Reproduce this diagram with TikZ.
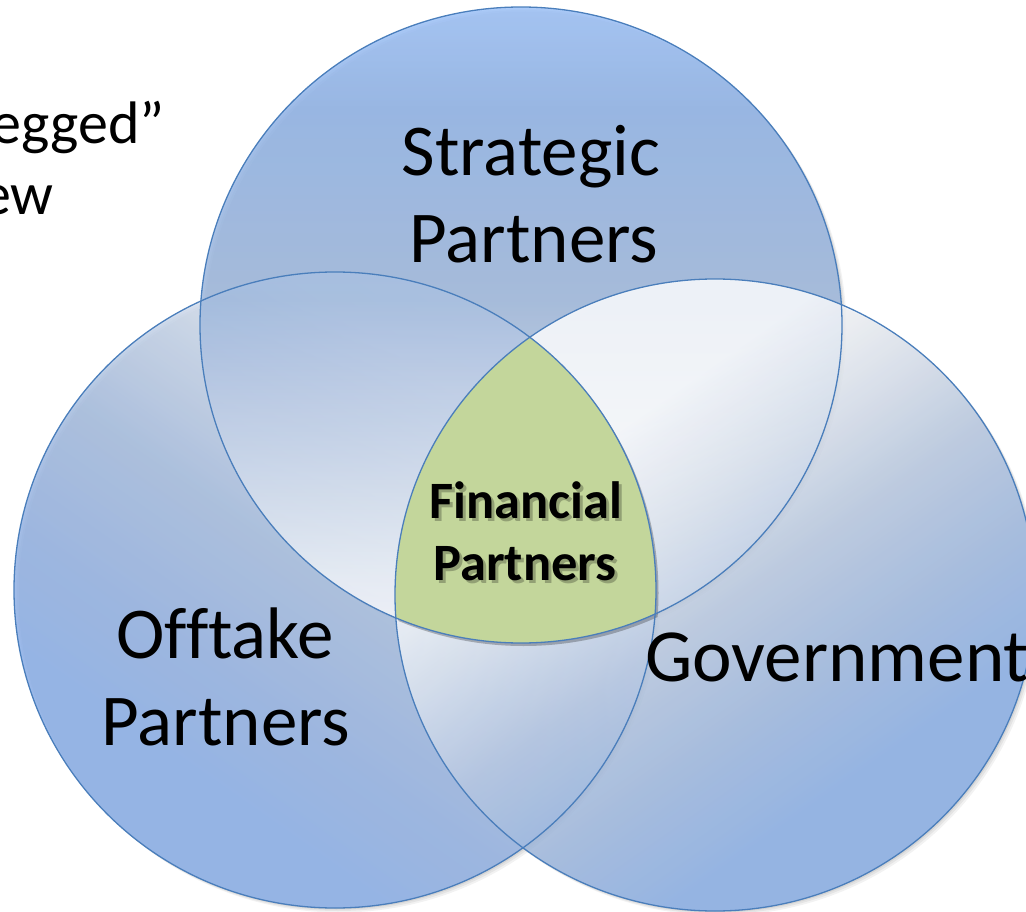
\documentclass[tikz,border=0pt]{standalone}
\usepackage{fontspec}
\setmainfont[Ligatures=NoCommon]{Carlito}
\begin{document}
% palette
\definecolor{ringline}{HTML}{4A7EBB}
\definecolor{coreGreen}{HTML}{C3D69B}
\definecolor{tA}{HTML}{9AC0F8}
\definecolor{tB}{HTML}{8CB0E6}
\definecolor{tC}{HTML}{9CB6DC}
\definecolor{tD}{HTML}{CBD7EA}
\definecolor{tE}{HTML}{F2F5FA}
\definecolor{lA}{HTML}{89AEE8}
\definecolor{lB}{HTML}{92B0E2}
\definecolor{lC}{HTML}{A3BBDF}
\definecolor{lD}{HTML}{C6D4E9}
\definecolor{lE}{HTML}{EEF2F8}
\definecolor{rA}{HTML}{89AEE6}
\definecolor{rB}{HTML}{9CB7E0}
\definecolor{rC}{HTML}{B8C9E2}
\definecolor{rD}{HTML}{DEE5F0}
% gradients for the three rings (blue on the outer side, white toward the middle)
\pgfdeclareverticalshading{ringTop}{100bp}{color(0bp)=(white); color(25bp)=(white); color(30bp)=(tE); color(40bp)=(tD); color(52bp)=(tC); color(67bp)=(tB); color(75bp)=(tA); color(100bp)=(tA)}
\pgfdeclareverticalshading{ringLeft}{100bp}{color(0bp)=(white); color(32bp)=(lE); color(40bp)=(lD); color(50bp)=(lC); color(60bp)=(lB); color(68bp)=(lA); color(100bp)=(lA)}
\pgfdeclareverticalshading{ringRight}{100bp}{color(0bp)=(white); color(35bp)=(white); color(43bp)=(rD); color(51bp)=(rC); color(60bp)=(rB); color(68bp)=(rA); color(100bp)=(rA)}
\begin{tikzpicture}[x=1pt,y=-1pt,
  topshape/.style={insert path={(521,325) ellipse [x radius=321pt, y radius=318pt]}},
  leftshape/.style={insert path={(335,590) ellipse [x radius=321pt, y radius=318pt]}},
  rightshape/.style={insert path={(715,595) ellipse [x radius=320pt, y radius=316pt]}},
  ringfill/.style={shade, fill opacity=0.82},
  ringedge/.style={draw=ringline, line width=1.3pt},
  lbl/.style={font=\fontsize{73}{87}\selectfont, inner sep=0pt, text=black},
  fin/.style={font=\fontsize{52.5}{62}\selectfont\bfseries, inner sep=0pt},
  side/.style={font=\fontsize{60}{72}\selectfont, inner sep=0pt, text=black}]
\useasboundingbox (0,0) rectangle (1026,912);
\clip (0,0) rectangle (1026,912);

% soft drop shadows under the rings
\foreach \d/\o in {1.5/0.07,3/0.06,4.5/0.05}{
  \fill[black, opacity=\o, xshift=\d, yshift=-\d] [topshape];
  \fill[black, opacity=\o, xshift=\d, yshift=-\d] [leftshape];
  \fill[black, opacity=\o, xshift=\d, yshift=-\d] [rightshape];
}

% ring fills
\path[ringfill, shading=ringLeft, shading angle=145] [leftshape];
\path[ringfill, shading=ringTop] [topshape];
\path[ringfill, shading=ringRight, shading angle=-145] [rightshape];

% shadow of the common core
\begin{scope}[xshift=2.5, yshift=-3]
  \path[clip, topshape];
  \path[clip, leftshape];
  \fill[black, opacity=0.25] [rightshape];
\end{scope}
% common core of all three rings
\begin{scope}
  \path[clip, topshape];
  \path[clip, leftshape];
  \fill[coreGreen] [rightshape];
\end{scope}

% ring outlines
\path[ringedge] [topshape];
\path[ringedge] [leftshape];
\path[ringedge] [rightshape];

% labels
\node[lbl, anchor=base] (strat1) at (531,176) {Strategic};
\node[lbl, anchor=base] (strat2) at (534,263) {Partners};
\node[lbl, anchor=base] (off1) at (225,658) {Offtake};
\node[lbl, anchor=base] (off2) at (226,745) {Partners};
\node[lbl, font=\fontsize{75}{87}\selectfont, anchor=base west] (gov) at (645,681) {Government};

% core label with its shadow
\node[fin, anchor=base, text=black, opacity=0.25] (fin1s) at (529,521) {Financial};
\node[fin, anchor=base, text=black, opacity=0.25] (fin2s) at (528,583) {Partners};
\node[fin, anchor=base, text=black] (fin1) at (526,518) {Financial};
\node[fin, anchor=base, text=black] (fin2) at (525,580) {Partners};

% text running in from the left edge
\node[side, anchor=base east] (side1) at (165,144) {egged”};
\node[side, anchor=base east] (side2) at (54,215) {ew};
\end{tikzpicture}
\end{document}
